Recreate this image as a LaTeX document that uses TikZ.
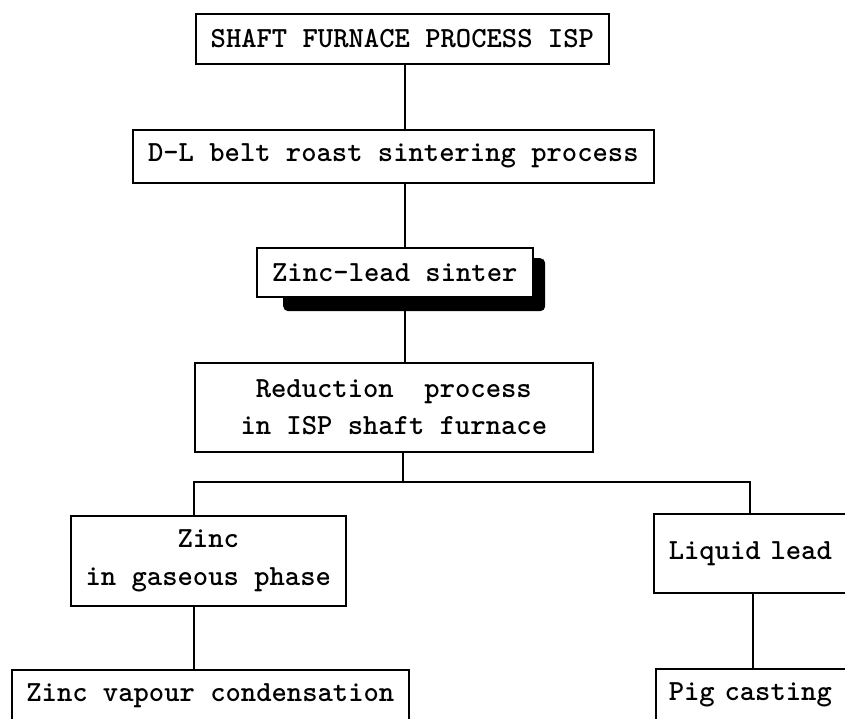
\documentclass[tikz,border=0pt]{standalone}
\begin{document}
\begin{tikzpicture}[x=1pt,y=-1pt,
  box/.style={draw, line width=1.6pt, inner sep=0pt, font=\fontsize{29.2}{37.5}\selectfont\ttfamily\bfseries, align=center, anchor=north west},
  link/.style={line width=1.6pt}]
\useasboundingbox (0,0) rectangle (845,718);
\clip (0,0) rectangle (845,718);
\coordinate (spine) at (405,0);
\coordinate (zl) at (194,0);
\coordinate (lx) at (750,0);
\coordinate (lx2) at (753,0);
\coordinate (br) at (403,482);
\node[box, minimum width=413pt, minimum height=50pt] (b1) at (195,13) {SHAFT FURNACE PROCESS ISP};
\node[box, minimum width=521pt, minimum height=53pt] (b2) at (132,129) {D-L belt roast sintering process};
\node[fill=black, rounded corners=5pt, inner sep=0pt, anchor=north west, minimum width=262pt, minimum height=53pt] (b3s) at (283,258) {};
\node[box, fill=white, minimum width=276pt, minimum height=49pt] (b3) at (256,247) {Zinc-lead sinter};
\node[box, minimum width=398pt, minimum height=89pt] (b4) at (194,362) {Reduction\ \ process\\in ISP shaft furnace};
\node[box, minimum width=275pt, minimum height=90pt] (z) at (70,515) {Zinc\\in gaseous phase};
\node[box, minimum width=397pt, minimum height=52pt] (zv) at (11,669) {Zinc vapour condensation};
\node[box, minimum height=79pt, text width=200pt, align=left, inner xsep=15pt] (ll) at (653,513) {Liquid lead};
\node[box, minimum height=52pt, text width=200pt, align=left, inner xsep=13pt] (pc) at (655,668) {Pig casting};
\draw[link] (b1.south -| spine) -- (b2.north -| spine);
\draw[link] (b2.south -| spine) -- (b3.north -| spine);
\draw[link] (b3s.south -| spine) -- (b4.north -| spine);
\draw[link] (b4.south -| br) -- (br);
\draw[link] (z.north -| zl) |- (br) -| (ll.north -| lx);
\draw[link] (z.south -| zl) -- (zv.north -| zl);
\draw[link] (ll.south -| lx2) -- (pc.north -| lx2);
\end{tikzpicture}
\end{document}
